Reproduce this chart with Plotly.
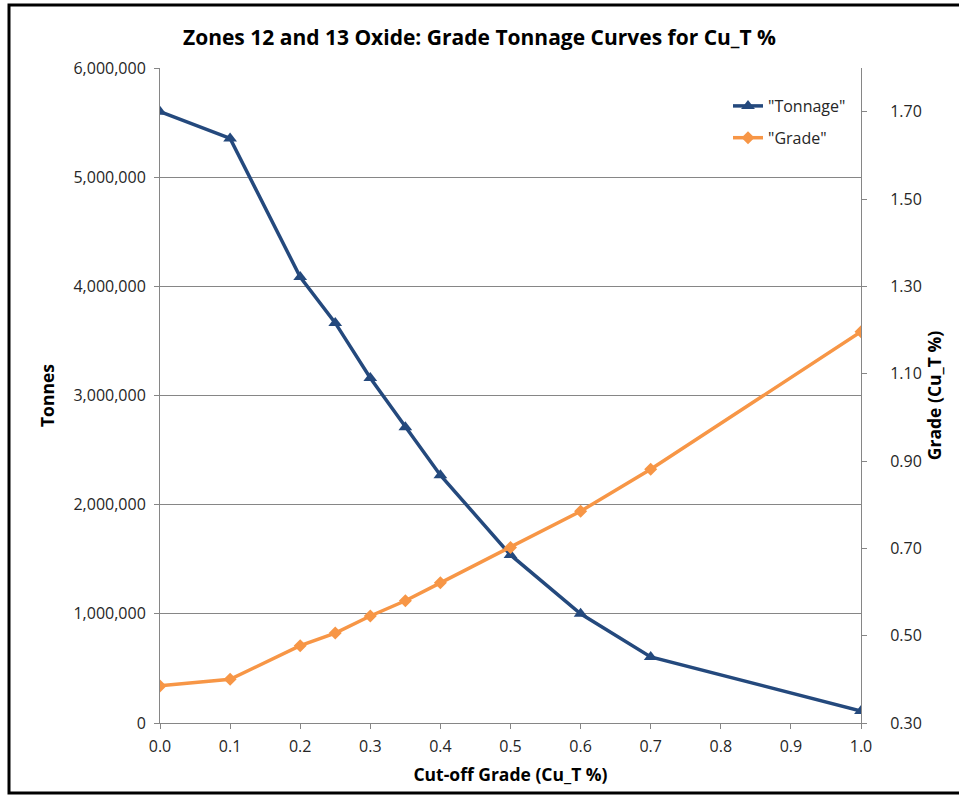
import plotly.graph_objects as go

cutoff = [0.0, 0.1, 0.2, 0.25, 0.3, 0.35, 0.4, 0.5, 0.6, 0.7, 1.0]
tonnage = [5600000, 5355000, 4085000, 3665000, 3160000, 2710000, 2270000, 1540000, 1000000, 605000, 110000]
grade = [0.385, 0.40, 0.477, 0.506, 0.545, 0.58, 0.621, 0.702, 0.785, 0.881, 1.196]

FONT = "Open Sans, Lato, sans-serif"
GRID = "#868686"
TXT = "#262626"

fig = go.Figure()
fig.add_trace(go.Scatter(
    x=cutoff, y=tonnage, name='"Tonnage"', mode="lines+markers",
    line=dict(color="#24497D", width=3.5),
    marker=dict(symbol="triangle-up", size=12, color="#24497D"),
    legendgroup="a", yaxis="y"))
fig.add_trace(go.Scatter(
    x=cutoff, y=grade, name='"Grade"', mode="lines+markers",
    line=dict(color="#F79646", width=3.5),
    marker=dict(symbol="diamond", size=10, color="#F79646"),
    legendgroup="b", yaxis="y2"))

L, R, T, B = 160, 861, 68, 723
W, H = 959, 796
pw, ph = R - L, B - T

def px(x):
    return (x - L) / pw

def py(y):
    return (B - y) / ph

tickfont = dict(family=FONT, size=16, color=TXT)
titlefont = dict(family=FONT, size=17.5, color="#000000")

fig.update_layout(
    width=W, height=H,
    margin=dict(l=L, r=W - R, t=T, b=H - B, pad=0),
    paper_bgcolor="white", plot_bgcolor="white",
    font=dict(family=FONT, size=16, color=TXT),
    title=dict(text="<b>Zones 12 and 13 Oxide: Grade Tonnage Curves for Cu_T %</b>",
               x=0.5, xanchor="center", y=1 - 38 / H, yanchor="middle",
               font=dict(family=FONT, size=21, color="#000000")),
    xaxis=dict(range=[0, 1], tick0=0, dtick=0.1, tickformat=".1f",
               showgrid=False, zeroline=False, showline=True, linecolor=GRID, linewidth=1,
               ticks="outside", ticklen=5, tickcolor=GRID, ticklabelstandoff=4,
               tickfont=tickfont,
               title=dict(text="<b>Cut-off Grade (Cu_T %)</b>", standoff=12, font=titlefont)),
    yaxis=dict(range=[0, 6000000], dtick=1000000, tickformat=",",
               showgrid=True, gridcolor=GRID, gridwidth=1, zeroline=False,
               showline=True, linecolor=GRID, linewidth=1,
               ticks="outside", ticklen=5, tickcolor=GRID, ticklabelstandoff=5,
               tickfont=tickfont,
               title=dict(text="<b>Tonnes</b>", standoff=14, font=titlefont)),
    yaxis2=dict(range=[0.3, 1.8], tick0=0.3, dtick=0.2, tickformat=".2f",
                overlaying="y", side="right", showgrid=False, zeroline=False,
                showline=True, linecolor=GRID, linewidth=1,
                ticks="outside", ticklen=5, tickcolor=GRID, ticklabelstandoff=20,
                tickfont=tickfont,
                title=dict(text="<b>Grade (Cu_T %)</b>", standoff=4, font=titlefont)),
    legend=dict(x=px(728), y=py(89), xanchor="left", yanchor="top",
                bgcolor="rgba(0,0,0,0)", borderwidth=0,
                font=dict(family=FONT, size=16, color=TXT),
                tracegroupgap=8),
    showlegend=True,
    shapes=[dict(type="rect", xref="paper", yref="paper",
                 x0=px(9), x1=px(990), y0=py(793), y1=py(5),
                 line=dict(color="#000000", width=3), fillcolor="rgba(0,0,0,0)",
                 layer="above")],
)

fig.write_html("out.html", config={"displayModeBar": False},
               post_script="document.body.style.margin='0';document.body.style.overflow='hidden';")
